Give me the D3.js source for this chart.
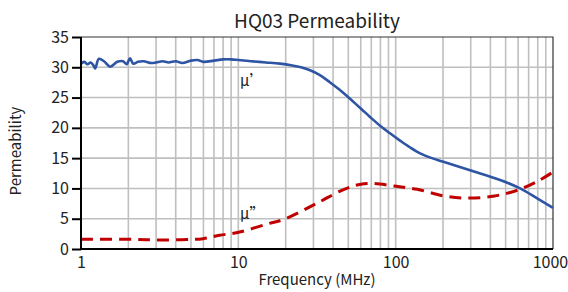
<!DOCTYPE html>
<html><head><meta charset="utf-8">
<script src="https://cdn.jsdelivr.net/npm/d3@7"></script>
<style>
html,body{margin:0;padding:0;background:#fff;}
text{font-family:"Noto Sans CJK SC","Noto Sans",sans-serif;fill:#222;}
</style></head>
<body><svg id="c" width="568" height="292"></svg>
<script>
const title = "HQ03 Permeability";
const xLabel = "Frequency (MHz)";
const yLabel = "Permeability";
const xTicks = [1, 10, 100, 1000];
const yTicks = [0, 5, 10, 15, 20, 25, 30, 35];
// μ' (real part)
const freqReal = [1.0,1.05,1.1,1.15,1.2,1.23,1.3,1.4,1.53,1.7,1.85,1.95,2.0,2.05,2.15,2.3,2.5,2.8,3.0,3.3,3.6,4.0,4.4,5,5.5,6,7,8,9,10,12,15,18.4,22,25,28.6,33,38.3,45,51.3,60,68.7,80,92,106.6,123,143,170,201,297,461,618,789,1000];
const muReal = [30.6,30.9,30.5,30.8,30.3,29.8,31.4,31.0,30.1,30.9,31.0,30.5,31.0,31.5,30.6,30.9,31.0,30.7,30.8,31.0,30.8,31.0,30.7,31.1,31.2,30.9,31.1,31.3,31.3,31.2,31.0,30.8,30.6,30.3,30.0,29.5,28.7,27.5,26.1,24.8,23.2,21.8,20.3,19.1,17.9,16.8,15.8,15.0,14.4,13.0,11.4,10.0,8.4,6.8];
// μ'' (imaginary part)
const freqImag = [1.0,2.0,3.03,4.7,5.97,7.6,10.2,15.1,19.5,31.8,47,60,73,98,137,203,286,424,594,800,1000];
const muImag = [1.6,1.6,1.5,1.55,1.7,2.26,2.8,4.1,4.9,7.6,9.85,10.7,10.8,10.4,9.85,8.75,8.4,8.75,9.7,11.2,12.7];

const svg = d3.select("#c");
const L=81,R=553,T=37,B=249;
const x = d3.scaleLog().domain([1,1000]).range([L,R]);
const y = d3.scaleLinear().domain([0,35]).range([B,T]);

// grid
const minor = [];
for (let d=1; d<1000; d*=10) for (let k=2;k<=10;k++) minor.push(d*k);
svg.append("g").selectAll("line").data(minor.filter(v=>v<1000)).join("line")
  .attr("x1",d=>x(d)).attr("x2",d=>x(d)).attr("y1",T).attr("y2",B)
  .attr("stroke","#bfbfbf").attr("stroke-width",1.6);
svg.append("g").selectAll("line").data(yTicks.filter(v=>v>0&&v<35)).join("line")
  .attr("x1",L).attr("x2",R).attr("y1",d=>y(d)).attr("y2",d=>y(d))
  .attr("stroke","#bfbfbf").attr("stroke-width",1.6);

// frame top/right
svg.append("path").attr("d",`M${L},${T}H${R}V${B}`).attr("fill","none").attr("stroke","#333").attr("stroke-width",1.2);

// lines
const lineGen = (xs) => d3.line().x((d,i)=>x(xs[i])).y(d=>y(d)).curve(d3.curveCatmullRom.alpha(0.5));
svg.append("path").datum(muImag).attr("d",lineGen(freqImag))
  .attr("fill","none").attr("stroke","#c00000").attr("stroke-width",3).attr("stroke-dasharray","12,7");
svg.append("path").datum(muReal).attr("d",lineGen(freqReal))
  .attr("fill","none").attr("stroke","#2e54a4").attr("stroke-width",2.6).attr("stroke-linejoin","round");

// axes
const yAxis = svg.append("g").attr("transform",`translate(${L},0)`)
  .call(d3.axisLeft(y).tickValues(yTicks).tickSize(9).tickPadding(3));
yAxis.select(".domain").attr("stroke","#000").attr("stroke-width",2).attr("d",`M0,${T}V${B}`);
yAxis.selectAll(".tick line").attr("stroke","#000").attr("stroke-width",2);
yAxis.selectAll("text").attr("font-size",16).style("fill","#222");

const xAxis = svg.append("g").attr("transform",`translate(0,${B})`)
  .call(d3.axisBottom(x).tickValues(xTicks).tickFormat(d3.format("d")).tickSize(0).tickPadding(8));
xAxis.select(".domain").attr("stroke","#000").attr("stroke-width",2).attr("d",`M${L},0H${R}`);
xAxis.selectAll("text").attr("font-size",16).style("fill","#222");
xAxis.selectAll(".tick").filter(d=>d===1000).select("text").attr("dx",-3);

// labels
svg.append("text").attr("x",317).attr("y",28).attr("text-anchor","middle").attr("font-size",19).text(title);
svg.append("text").attr("x",317).attr("y",285).attr("text-anchor","middle").attr("font-size",15).text(xLabel);
svg.append("text").attr("transform","translate(21,151) rotate(-90)").attr("text-anchor","middle").attr("font-size",15).text(yLabel);
svg.append("text").attr("x",240).attr("y",86).attr("font-size",15).text("μ’");
svg.append("text").attr("x",240).attr("y",219).attr("font-size",15).text("μ”");
</script></body></html>
